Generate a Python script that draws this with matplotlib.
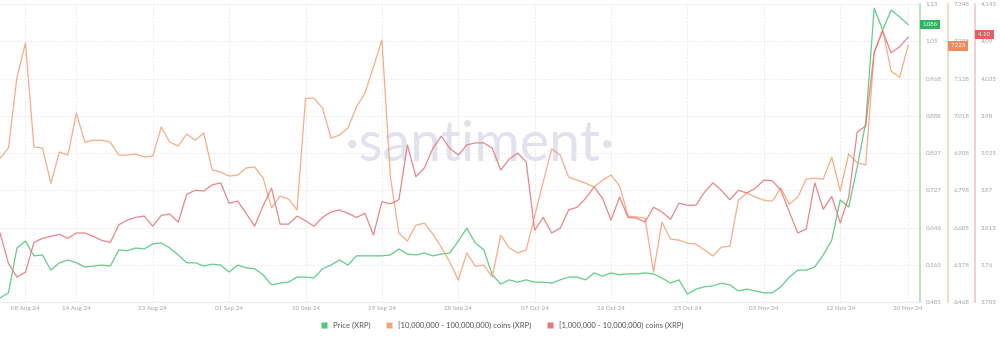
import matplotlib
matplotlib.use("Agg")
import matplotlib.pyplot as plt
import matplotlib.dates as mdates
from matplotlib.lines import Line2D
import pandas as pd

plt.rcParams["font.family"] = ["Lato", "DejaVu Sans"]

START_DATE = "2024-08-05"

price_xrp = [
    0.494, 0.505, 0.602, 0.617, 0.585, 0.587, 0.554, 0.570, 0.576, 0.570,
    0.561, 0.563, 0.565, 0.563, 0.598, 0.596, 0.602, 0.600, 0.611, 0.613,
    0.602, 0.587, 0.570, 0.570, 0.563, 0.567, 0.565, 0.550, 0.565, 0.559,
    0.557, 0.544, 0.522, 0.526, 0.528, 0.539, 0.539, 0.537, 0.557, 0.565,
    0.576, 0.565, 0.585, 0.585, 0.585, 0.585, 0.587, 0.600, 0.589, 0.587,
    0.591, 0.585, 0.589, 0.591, 0.617, 0.645, 0.613, 0.598, 0.544, 0.524,
    0.533, 0.528, 0.533, 0.528, 0.528, 0.526, 0.533, 0.539, 0.539, 0.533,
    0.548, 0.541, 0.548, 0.544, 0.546, 0.546, 0.548, 0.546, 0.537, 0.526,
    0.533, 0.502, 0.513, 0.518, 0.520, 0.526, 0.522, 0.509, 0.513, 0.509,
    0.505, 0.505, 0.518, 0.539, 0.554, 0.554, 0.561, 0.587, 0.619, 0.706,
    0.691, 0.777, 0.873, 1.121, 1.074, 1.117, 1.102, 1.086,
]

# 10M - 100M XRP wallets, total holdings (billions)
whales_10m_100m = [
    6.893, 6.923, 7.132, 7.233, 6.926, 6.923, 6.819, 6.911, 6.902, 7.026,
    6.940, 6.946, 6.946, 6.940, 6.902, 6.902, 6.905, 6.896, 6.899, 6.985,
    6.940, 6.929, 6.964, 6.946, 6.967, 6.858, 6.852, 6.840, 6.843, 6.864,
    6.867, 6.834, 6.746, 6.781, 6.772, 6.740, 7.070, 7.070, 7.041, 6.952,
    6.961, 6.982, 7.044, 7.085, 7.162, 7.242, 6.837, 6.672, 6.648, 6.695,
    6.701, 6.669, 6.630, 6.586, 6.533, 6.613, 6.574, 6.577, 6.542, 6.666,
    6.628, 6.613, 6.622, 6.722, 6.822, 6.920, 6.902, 6.837, 6.828, 6.819,
    6.808, 6.828, 6.843, 6.811, 6.722, 6.719, 6.716, 6.557, 6.704, 6.654,
    6.651, 6.642, 6.639, 6.622, 6.604, 6.630, 6.633, 6.769, 6.790, 6.778,
    6.769, 6.766, 6.805, 6.757, 6.778, 6.831, 6.834, 6.831, 6.896, 6.796,
    6.905, 6.879, 6.873, 7.206, 7.274, 7.150, 7.132, 7.225,
]

# 1M - 10M XRP wallets
whales_1m_10m = [
    3.807, 3.762, 3.742, 3.749, 3.793, 3.799, 3.802, 3.805, 3.799, 3.807,
    3.807, 3.802, 3.796, 3.793, 3.819, 3.826, 3.830, 3.832, 3.817, 3.833,
    3.835, 3.823, 3.864, 3.870, 3.869, 3.878, 3.881, 3.851, 3.854, 3.836,
    3.817, 3.847, 3.873, 3.820, 3.820, 3.832, 3.825, 3.817, 3.830, 3.838,
    3.841, 3.836, 3.830, 3.836, 3.804, 3.853, 3.850, 3.856, 3.937, 3.890,
    3.903, 3.932, 3.950, 3.932, 3.922, 3.937, 3.940, 3.940, 3.932, 3.900,
    3.916, 3.925, 3.912, 3.811, 3.830, 3.807, 3.814, 3.841, 3.845, 3.858,
    3.875, 3.858, 3.826, 3.860, 3.830, 3.829, 3.823, 3.845, 3.838, 3.827,
    3.851, 3.848, 3.848, 3.867, 3.881, 3.870, 3.856, 3.870, 3.866, 3.873,
    3.885, 3.884, 3.870, 3.838, 3.807, 3.813, 3.881, 3.842, 3.861, 3.822,
    3.860, 3.956, 3.965, 4.073, 4.105, 4.073, 4.082, 4.096,
]

date_ticks = [
    "2024-08-08", "2024-08-14", "2024-08-23", "2024-09-01", "2024-09-10",
    "2024-09-19", "2024-09-28", "2024-10-07", "2024-10-16", "2024-10-25",
    "2024-11-03", "2024-11-12", "2024-11-20",
]

price_ticks = ["0.485", "0.565", "0.646", "0.727", "0.807", "0.888", "0.968", "1.05", "1.13"]
mid_ticks = ["6.468", "6.578", "6.688", "6.798", "6.908", "7.018", "7.128", "7.238", "7.348"]
small_ticks = ["3.705", "3.76", "3.815", "3.87", "3.925", "3.98", "4.035", "4.09", "4.145"]

last_labels = ["1.086", "7.225", "4.10"]

series_names = [
    "Price (XRP)",
    "[10,000,000 - 100,000,000) coins (XRP)",
    "[1,000,000 - 10,000,000) coins (XRP)",
]

GREEN = "#52c77a"
ORANGE = "#f4a47a"
RED = "#e8787c"
SPINE_COLORS = ["#ace0bc", "#f5d2c0", "#f1c6c6"]
BADGE_COLORS = ["#2fb560", "#ef8c5c", "#e55d63"]
GRID = "#e6e6e6"
TEXT = "#a3a3a3"

dates = pd.date_range(START_DATE, periods=len(price_xrp), freq="D")

fig = plt.figure(figsize=(10, 3.39), dpi=100)
ax = fig.add_axes([0.0, 0.109, 0.92, 0.879])
ax2 = ax.twinx()
ax3 = ax.twinx()
ax2.spines["right"].set_position(("axes", 1.0304))
ax3.spines["right"].set_position(("axes", 1.0598))

axes = [ax, ax2, ax3]
values = [price_xrp, whales_10m_100m, whales_1m_10m]
colors = [GREEN, ORANGE, RED]
tick_sets = [price_ticks, mid_ticks, small_ticks]
spine_x = [1.0, 1.0304, 1.0598]

# watermark sits on the base axes so every line is drawn above it
ax.text(0.522, 0.525, "\u00b7santiment\u00b7", transform=ax.transAxes,
        ha="center", va="center", fontsize=40, color="#e1e2ee", zorder=0)

for a, vals, col, ticks, spine_col, badge_col, badge, sx in zip(
        axes, values, colors, tick_sets, SPINE_COLORS, BADGE_COLORS,
        last_labels, spine_x):
    a.plot(dates, vals, color=col, linewidth=0.9, alpha=0.9, zorder=3)
    tick_vals = [float(t) for t in ticks]
    a.set_ylim(tick_vals[0], tick_vals[-1])
    a.set_yticks(tick_vals)
    a.set_yticklabels(ticks)
    a.yaxis.tick_right()
    a.tick_params(axis="y", length=0, pad=4, labelsize=4.5, labelcolor=TEXT)
    for side in ["top", "left", "bottom"]:
        a.spines[side].set_visible(False)
    a.spines["right"].set_color(spine_col)
    a.spines["right"].set_linewidth(1.2)
    a.text(sx + 0.003, float(badge), badge.ljust(5), transform=a.get_yaxis_transform(),
           ha="left", va="center", fontsize=4.3, color="white",
           bbox=dict(boxstyle="square,pad=0.4", facecolor=badge_col,
                     edgecolor="none"), clip_on=False, zorder=5)

ax.set_xlim(dates[0], dates[0] + pd.Timedelta(days=108.4))
ax.set_xticks(pd.to_datetime(date_ticks))
ax.xaxis.set_major_formatter(mdates.DateFormatter("%d %b %y"))
ax.tick_params(axis="x", length=0, pad=3, labelsize=4.5, labelcolor=TEXT)
ax.spines["bottom"].set_visible(True)
ax.spines["bottom"].set_color("#ececec")
ax.spines["bottom"].set_linewidth(0.8)

ax.grid(True, color=GRID, linestyle=(0, (2, 2)), linewidth=0.6)
ax.set_axisbelow(True)

handles = [Line2D([], [], marker="s", linestyle="none", markersize=4,
                  markerfacecolor=c, markeredgecolor="none") for c in colors]
fig.legend(handles, series_names, loc="center", bbox_to_anchor=(0.5, 0.041),
           ncol=3, frameon=False, fontsize=5.5, handletextpad=0.2,
           columnspacing=1.4, labelcolor="#555555")

fig.savefig("out.png", dpi=100, facecolor="white")
